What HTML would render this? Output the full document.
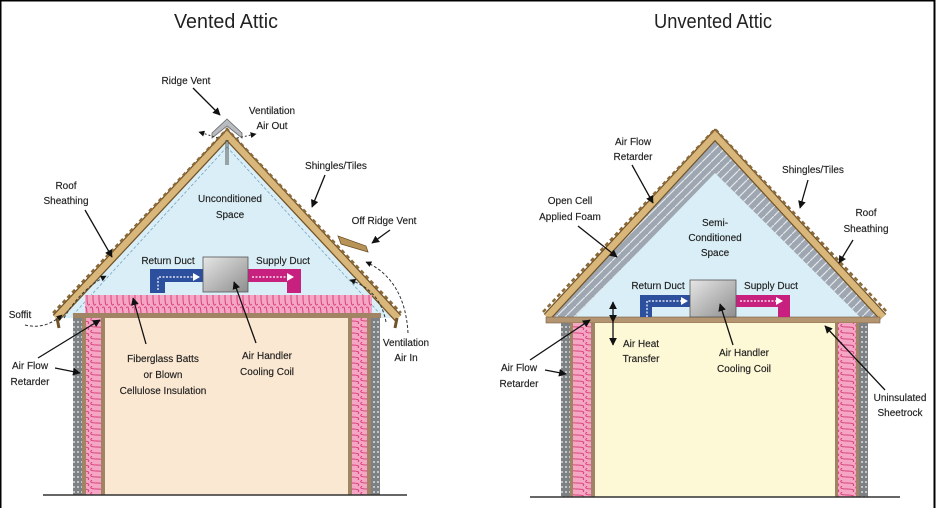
<!DOCTYPE html>
<html><head><meta charset="utf-8"><style>
html,body{margin:0;padding:0;background:#fff;}
svg{display:block;}
text{font-family:"Liberation Sans",sans-serif;font-size:10px;fill:#1e1e1e;text-anchor:middle;stroke:#1e1e1e;stroke-width:0.15;}
.t{font-size:20px;fill:#222;stroke:none;}
</style></head><body>
<svg width="936" height="508" viewBox="0 0 936 508" xmlns="http://www.w3.org/2000/svg">
<defs>
<marker id="ah" viewBox="0 0 10 10" refX="9" refY="5" markerWidth="6" markerHeight="6" orient="auto-start-reverse"><path d="M0,0 L10,5 L0,10 z" fill="#111"/></marker>
<pattern id="batH" width="6" height="18" patternUnits="userSpaceOnUse"><rect width="6" height="18" fill="#f4a6c4"/><path d="M0,2 Q3,-2 3,9 Q3,20 6,16" stroke="#d8407a" stroke-width="1" fill="none"/></pattern>
<pattern id="batV" width="15" height="6" patternUnits="userSpaceOnUse"><rect width="15" height="6" fill="#f4a6c4"/><path d="M2,0 Q-2,3 7,3 Q16,3 13,6" stroke="#d8407a" stroke-width="1" fill="none"/></pattern>
<pattern id="foam" width="9" height="9" patternUnits="userSpaceOnUse"><rect width="9" height="9" fill="#9ea7b1"/><path d="M0,9 L9,0" stroke="#e3e7ea" stroke-width="1.2"/></pattern>
<pattern id="wall" width="4" height="5" patternUnits="userSpaceOnUse"><rect width="4" height="5" fill="#7e8184"/><rect x="1" y="1" width="2" height="2" fill="#c2c5c8"/></pattern>
<linearGradient id="box" x1="0" y1="0" x2="1" y2="1"><stop offset="0" stop-color="#e6e6e6"/><stop offset="1" stop-color="#8e8e8e"/></linearGradient>
</defs>
<rect x="0.5" y="0.5" width="934" height="520" fill="none" stroke="#000" stroke-width="2"/>
<text class="t" x="226" y="28" textLength="104" lengthAdjust="spacingAndGlyphs">Vented Attic</text>
<text class="t" x="713" y="28" textLength="118" lengthAdjust="spacingAndGlyphs">Unvented Attic</text>

<!-- LEFT HOUSE -->
<polygon points="227,138 62,318 392,318" fill="#d9eef6"/>
<line x1="227" y1="147" x2="72" y2="316" stroke="#7aa3c4" stroke-width="0.8" stroke-dasharray="3,2"/>
<line x1="227" y1="147" x2="382" y2="316" stroke="#7aa3c4" stroke-width="0.8" stroke-dasharray="3,2"/>
<path d="M56,318 L227,135 L398,318" stroke="#6f5228" stroke-width="9" fill="none" stroke-linejoin="miter"/>
<path d="M56,318 L227,135 L398,318" stroke="#d9b679" stroke-width="6.5" fill="none"/>
<path d="M53,313 L227,129 L401,313" stroke="#8b6a3a" stroke-width="2.5" stroke-dasharray="4,3" fill="none"/>
<path d="M57,318 L59,328" stroke="#6f5228" stroke-width="3"/>
<path d="M397,318 L395,328" stroke="#6f5228" stroke-width="3"/>
<!-- ridge vent -->
<polygon points="212,133 227,119 242,133 242,138 227,126 212,138" fill="#b8bcc0" stroke="#666" stroke-width="0.8"/>
<line x1="226" y1="140" x2="226" y2="165" stroke="#555" stroke-width="1"/><line x1="228" y1="140" x2="228" y2="165" stroke="#555" stroke-width="1"/>
<!-- off ridge vent -->
<polygon points="338,236 366,246 368,252 341,244" fill="#b79358" stroke="#6f5228" stroke-width="0.8"/>
<rect x="85" y="295" width="287" height="18" fill="url(#batH)"/>
<rect x="73" y="313" width="308" height="5" fill="#a08463"/>
<rect x="73" y="318" width="9" height="177" fill="url(#wall)"/>
<rect x="82" y="318" width="4" height="177" fill="#a08463"/>
<rect x="86" y="318" width="15" height="177" fill="url(#batV)"/>
<rect x="101" y="318" width="4" height="177" fill="#a08463"/>
<rect x="105" y="318" width="243" height="177" fill="#fbe8d2"/>
<rect x="348" y="318" width="4" height="177" fill="#a08463"/>
<rect x="352" y="318" width="15" height="177" fill="url(#batV)"/>
<rect x="367" y="318" width="4" height="177" fill="#a08463"/>
<rect x="371" y="318" width="9" height="177" fill="url(#wall)"/>
<line x1="43" y1="495" x2="407" y2="495" stroke="#333" stroke-width="1.5"/>
<path d="M150,269 H203 V282 H165 V293 H150 Z" fill="#2c4f9e"/>
<path d="M158,290 V277 H195" stroke="#fff" stroke-width="1.2" stroke-dasharray="2,1.5" fill="none"/>
<polygon points="193,273 200,277 193,281" fill="#fff"/>
<path d="M248,269 H301 V293 H287 V282 H248 Z" fill="#c8207e"/>
<path d="M252,277 H290" stroke="#fff" stroke-width="1.2" stroke-dasharray="2,1.5"/>
<polygon points="287,273 294,277 287,281" fill="#fff"/>
<rect x="203" y="257" width="45" height="35" fill="url(#box)" stroke="#555" stroke-width="0.8"/>
<path d="M25,325 Q45,330 62,315" stroke="#333" stroke-dasharray="3,2" fill="none" marker-end="url(#ah)"/>
<path d="M408,333 Q405,280 366,262" stroke="#333" stroke-dasharray="3,2" fill="none" marker-end="url(#ah)"/>
<path d="M386,322 Q380,290 350,280" stroke="#333" stroke-dasharray="3,2" fill="none" marker-end="url(#ah)"/>
<path d="M64,318 Q80,290 106,276" stroke="#333" stroke-dasharray="3,2" fill="none" marker-end="url(#ah)"/>
<path d="M218,138 L199,132" stroke="#333" stroke-dasharray="2,2" fill="none" marker-end="url(#ah)"/>
<path d="M237,138 L256,134" stroke="#333" stroke-dasharray="2,2" fill="none" marker-end="url(#ah)"/>
<g stroke="#111" stroke-width="1.3" fill="none" marker-end="url(#ah)">
<line x1="193" y1="88" x2="220" y2="115"/>
<line x1="325" y1="175" x2="312" y2="207"/>
<line x1="85" y1="210" x2="112" y2="257"/>
<line x1="390" y1="230" x2="372" y2="243"/>
<line x1="38" y1="358" x2="100" y2="320"/>
<line x1="55" y1="368" x2="80" y2="373"/>
<line x1="146" y1="344" x2="133" y2="298"/>
<line x1="256" y1="343" x2="234" y2="282"/>
</g>
<text x="186" y="84">Ridge Vent</text>
<text x="272" y="114">Ventilation</text><text x="272" y="129">Air Out</text>
<text x="336" y="169">Shingles/Tiles</text>
<text x="66" y="189">Roof</text><text x="66" y="204">Sheathing</text>
<text x="230" y="202">Unconditioned</text><text x="230" y="218">Space</text>
<text x="384" y="224">Off Ridge Vent</text>
<text x="168" y="264">Return Duct</text><text x="283" y="264">Supply Duct</text>
<text x="20" y="318">Soffit</text>
<text x="30" y="369">Air Flow</text><text x="30" y="385">Retarder</text>
<text x="163" y="362">Fiberglass Batts</text><text x="163" y="378">or Blown</text><text x="163" y="394">Cellulose Insulation</text>
<text x="267" y="359">Air Handler</text><text x="267" y="375">Cooling Coil</text>
<text x="406" y="346">Ventilation</text><text x="406" y="361">Air In</text>

<!-- RIGHT HOUSE -->
<polygon points="715,138 550,317 880,317" fill="url(#foam)"/>
<polygon points="715,173 575,317 860,317" fill="#d9eef6"/>
<path d="M547,317 L715,135 L883,317" stroke="#6f5228" stroke-width="9" fill="none"/>
<path d="M547,317 L715,135 L883,317" stroke="#d9b679" stroke-width="6.5" fill="none"/>
<path d="M543,312 L715,129 L887,312" stroke="#8b6a3a" stroke-width="2.5" stroke-dasharray="4,3" fill="none"/>
<rect x="546" y="317" width="334" height="6" fill="#b39572" stroke="#7a5e3e" stroke-width="0.6"/>
<rect x="561" y="323" width="9" height="174" fill="url(#wall)"/>
<rect x="570" y="323" width="3" height="174" fill="#a08463"/>
<rect x="573" y="323" width="18" height="174" fill="url(#batV)"/>
<rect x="591" y="323" width="4" height="174" fill="#a08463"/>
<rect x="595" y="323" width="240" height="174" fill="#fdf8d6"/>
<rect x="835" y="323" width="3" height="174" fill="#a08463"/>
<rect x="838" y="323" width="18" height="174" fill="url(#batV)"/>
<rect x="856" y="323" width="3" height="174" fill="#a08463"/>
<rect x="859" y="323" width="9" height="174" fill="url(#wall)"/>
<line x1="530" y1="497" x2="900" y2="497" stroke="#333" stroke-width="1.5"/>
<path d="M640,295 H690 V307 H652 V317 H640 Z" fill="#2c4f9e"/>
<path d="M647,317 V301 H683" stroke="#fff" stroke-width="1.2" stroke-dasharray="2,1.5" fill="none"/>
<polygon points="681,297 688,301 681,305" fill="#fff"/>
<path d="M736,295 H790 V317 H778 V307 H736 Z" fill="#c8207e"/>
<path d="M740,301 H778" stroke="#fff" stroke-width="1.2" stroke-dasharray="2,1.5"/>
<polygon points="776,297 783,301 776,305" fill="#fff"/>
<rect x="690" y="280" width="46" height="37" fill="url(#box)" stroke="#555" stroke-width="0.8"/>
<g stroke="#111" stroke-width="1.3" fill="none" marker-end="url(#ah)">
<line x1="632" y1="165" x2="653" y2="203"/>
<line x1="808" y1="180" x2="800" y2="208"/>
<line x1="578" y1="226" x2="617" y2="257"/>
<line x1="853" y1="240" x2="839" y2="263"/>
<line x1="613" y1="322" x2="613" y2="302" marker-start="url(#ah)"/>
<line x1="613" y1="322" x2="613" y2="345"/>
<line x1="733" y1="345" x2="720" y2="304"/>
<line x1="530" y1="360" x2="590" y2="320"/>
<line x1="545" y1="370" x2="566" y2="374"/>
<line x1="885" y1="390" x2="825" y2="326"/>
</g>
<text x="633" y="145">Air Flow</text><text x="633" y="160">Retarder</text>
<text x="813" y="173">Shingles/Tiles</text>
<text x="570" y="204">Open Cell</text><text x="570" y="220">Applied Foam</text>
<text x="866" y="216">Roof</text><text x="866" y="232">Sheathing</text>
<text x="715" y="226">Semi-</text><text x="715" y="241">Conditioned</text><text x="715" y="256">Space</text>
<text x="658" y="289">Return Duct</text><text x="771" y="289">Supply Duct</text>
<text x="641" y="347">Air Heat</text><text x="641" y="362">Transfer</text>
<text x="744" y="356">Air Handler</text><text x="744" y="372">Cooling Coil</text>
<text x="519" y="371">Air Flow</text><text x="519" y="387">Retarder</text>
<text x="900" y="401">Uninsulated</text><text x="900" y="416">Sheetrock</text>
</svg>
</body></html>
